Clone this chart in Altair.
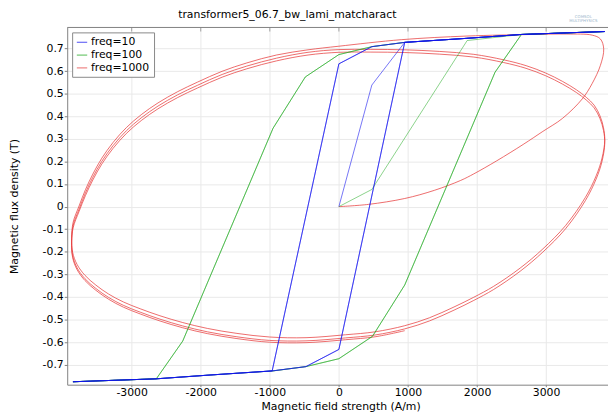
import altair as alt
import pandas as pd

# ---------------- axis ticks / labels ----------------
x_ticks = [-3000, -2000, -1000, 0, 1000, 2000, 3000]
y_ticks = [-0.7, -0.6, -0.5, -0.4, -0.3, -0.2, -0.1, 0, 0.1, 0.2, 0.3, 0.4, 0.5, 0.6, 0.7]
series_names = ["freq=10", "freq=100", "freq=1000"]
series_colors = ["#1010f0", "#16a616", "#e63b3b"]

# ---------------- freq=10 ----------------
f10_init_H = [0, 477, 953, 1857, 2643, 3850]
f10_init_B = [0, 0.538, 0.727, 0.745, 0.762, 0.775]
f10_loop_H = [3850, 2643, 1857, 953, 477, 0, -966, -1857, -2643, -3850,
              -2643, -1857, -966, -477, 0, 953, 1857, 2643, 3850]
f10_loop_B = [0.775, 0.762, 0.745, 0.727, 0.708, 0.632, -0.727, -0.745, -0.762, -0.775,
              -0.762, -0.745, -0.727, -0.708, -0.632, 0.727, 0.745, 0.762, 0.775]

# ---------------- freq=100 ----------------
f100_init_H = [0, 477, 1857, 2643, 3850]
f100_init_B = [0, 0.076, 0.735, 0.762, 0.775]
f100_loop_H = [3850, 2643, 1857, 953, 477, 0, -486, -953, -2261, -2643, -3850,
               -2643, -1857, -953, -477, 0, 486, 953, 2261, 2643, 3850]
f100_loop_B = [0.775, 0.762, 0.745, 0.727, 0.708, 0.673, 0.574, 0.347, -0.595, -0.762, -0.775,
               -0.762, -0.745, -0.727, -0.708, -0.673, -0.574, -0.347, 0.595, 0.762, 0.775]

# ---------------- freq=1000 ----------------
# initial magnetisation from the origin up to the top-right corner
f1000_init_H = [0, 429, 953, 1381, 1763, 1953, 2286, 2667, 2953, 3239, 3524, 3667, 3786, 3834, 3786, 3667]
f1000_init_B = [0, 0.010, 0.036, 0.072, 0.116, 0.145, 0.203, 0.275, 0.333, 0.391, 0.477, 0.545, 0.625, 0.698, 0.742, 0.759]

# first period (outer trace)
f1000_c1_H = [3300, 2810, 1853, 910, 0, -447,
              -904, -1333, -1690, -2047, -2333, -2619, -2861, -3076, -3269, -3433, -3562, -3669,
              -3761, -3847, -3869, -3854, -3790, -3676, -3519, -3333, -3119, -2876, -2590, -2261,
              -1904, -1476, -1004, -476, 96, 524, 953, 1310, 1667, 1953, 2239, 2624, 2953, 3281,
              3567, 3724, 3810, 3849]
f1000_c1_B = [0.764, 0.762, 0.755, 0.739, 0.710, 0.694,
              0.671, 0.636, 0.599, 0.551, 0.509, 0.459, 0.407, 0.350, 0.284, 0.214, 0.144, 0.075,
              0.003, -0.069, -0.141, -0.203, -0.256, -0.304, -0.347, -0.387, -0.422, -0.452, -0.483, -0.513,
              -0.539, -0.561, -0.577, -0.580, -0.567, -0.554, -0.527, -0.492, -0.444, -0.401, -0.353, -0.272, -0.187, -0.084,
              0.040, 0.136, 0.215, 0.294]

# second period
f1000_c2_H = [3831, 3781, 3696, 3581, 3439, 3239, 2996, 2710, 2381, 1953, 1453, 953, 453, 0, -447,
              -904, -1333, -1690, -2047, -2333, -2619, -2861, -3076, -3269, -3433, -3562, -3669,
              -3761, -3847, -3869, -3854, -3790, -3676, -3519, -3333, -3119, -2876, -2590, -2261,
              -1904, -1476, -1004, -476, 96, 524, 953, 1310, 1667, 1953, 2239, 2624, 2953, 3281,
              3567, 3724, 3810, 3849]
f1000_c2_B = [0.349, 0.401, 0.449, 0.484, 0.517, 0.554, 0.591, 0.624, 0.650, 0.674, 0.687, 0.694, 0.696, 0.695, 0.683,
              0.657, 0.622, 0.585, 0.537, 0.495, 0.445, 0.393, 0.336, 0.270, 0.200, 0.130, 0.061,
              -0.011, -0.083, -0.155, -0.218, -0.271, -0.319, -0.362, -0.402, -0.437, -0.467, -0.498, -0.528,
              -0.554, -0.576, -0.592, -0.594, -0.581, -0.568, -0.541, -0.506, -0.458, -0.415, -0.367, -0.286, -0.201, -0.098,
              0.026, 0.122, 0.201, 0.280]

# third (partial) period
f1000_c3_H = [3831, 3781, 3696, 3581, 3439, 3239, 2996, 2710, 2381, 1953, 1453, 953, 453, 0, -447,
              -904, -1333, -1690, -2047, -2333, -2619, -2861, -3076, -3269, -3433, -3562, -3669,
              -3761, -3847, -3869, -3854, -3790, -3676, -3519, -3333, -3119, -2876, -2590, -2261,
              -1904, -1476, -1004, -476, 96, 524, 953]
f1000_c3_B = [0.337, 0.389, 0.437, 0.472, 0.505, 0.542, 0.579, 0.612, 0.638, 0.662, 0.675, 0.682, 0.684, 0.683, 0.671,
              0.645, 0.610, 0.573, 0.525, 0.483, 0.433, 0.381, 0.324, 0.258, 0.188, 0.118, 0.049,
              -0.021, -0.093, -0.165, -0.226, -0.279, -0.327, -0.370, -0.410, -0.445, -0.475, -0.506, -0.536,
              -0.562, -0.584, -0.600, -0.602, -0.589, -0.576, -0.549]

# ---------------- build tables ----------------
def rows(series, trace, hs, bs):
    return [{"series": series, "trace": trace, "i": i, "H": h, "B": b}
            for i, (h, b) in enumerate(zip(hs, bs))]

blue_rows = (rows("freq=10", "init", f10_init_H, f10_init_B)
             + rows("freq=10", "loop1", f10_loop_H, f10_loop_B)
             + rows("freq=10", "loop2", f10_loop_H, f10_loop_B))
green_rows = (rows("freq=100", "init", f100_init_H, f100_init_B)
              + rows("freq=100", "loop1", f100_loop_H, f100_loop_B)
              + rows("freq=100", "loop2", f100_loop_H, f100_loop_B))
red_H = f1000_init_H + f1000_c1_H + f1000_c2_H + f1000_c3_H
red_B = f1000_init_B + f1000_c1_B + f1000_c2_B + f1000_c3_B
red_rows = rows("freq=1000", "all", red_H, red_B)

FONT = "DejaVu Sans"
xscale = alt.Scale(domain=[-3933, 3896], nice=False, zero=False)
yscale = alt.Scale(domain=[-0.788, 0.793], nice=False, zero=False)
cscale = alt.Scale(domain=series_names, range=series_colors)

x_axis = alt.Axis(values=x_ticks, labelExpr="'' + datum.value", title="Magnetic field strength (A/m)",
                  grid=True, gridColor="#e9e9e9", domainColor="#808080", tickColor="#808080",
                  tickSize=2, labelPadding=0, labelFont=FONT, labelFontSize=11, labelColor="#000",
                  titleFont=FONT, titleFontSize=11, titleFontWeight="normal", titleColor="#000",
                  titleX=277, titleY=22, titleBaseline="middle")
y_axis = alt.Axis(values=y_ticks, labelExpr="'' + datum.value", title="Magnetic flux density (T)",
                  grid=True, gridColor="#e9e9e9", domainColor="#808080", tickColor="#808080",
                  tickSize=3, labelPadding=1, labelFont=FONT, labelFontSize=11, labelColor="#000",
                  titleFont=FONT, titleFontSize=11, titleFontWeight="normal", titleColor="#000",
                  titleX=-53, titleY=181, titleBaseline="middle", titleAngle=-90)

legend = alt.Legend(title=None, orient="none", legendX=5, legendY=5, symbolType="stroke",
                    symbolSize=110, symbolStrokeWidth=1, labelFont=FONT, labelFontSize=11,
                    labelColor="#000", strokeColor="#888888", fillColor="#ffffff", padding=4,
                    rowPadding=2, labelOffset=3)

def series_chart(data_rows, opacity, interp):
    return alt.Chart(pd.DataFrame(data_rows)).mark_line(
        strokeWidth=1, opacity=opacity, clip=True, interpolate=interp
    ).encode(
        x=alt.X("H:Q", scale=xscale, axis=x_axis),
        y=alt.Y("B:Q", scale=yscale, axis=y_axis),
        color=alt.Color("series:N", scale=cscale, legend=legend),
        detail="trace:N",
        order="i:Q",
    )

blue = series_chart(blue_rows, 0.58, "linear")
green = series_chart(green_rows, 0.5, "linear")
red = series_chart(red_rows, 0.75, "catmull-rom")

top_axis = alt.Chart(pd.DataFrame({"H": x_ticks})).mark_tick(color="#808080", size=4, thickness=1).encode(
    x=alt.X("H:Q", scale=xscale), y=alt.value(2))
top_line = alt.Chart(pd.DataFrame({"a": [0]})).mark_rule(color="#808080", strokeWidth=1).encode(
    x=alt.value(0), x2=alt.value(548), y=alt.value(0))

title_text = alt.Chart(pd.DataFrame({"t": ["transformer5_06.7_bw_lami_matcharact"]})).mark_text(
    font=FONT, fontSize=11, color="#000", align="center", baseline="middle", clip=False
).encode(text="t:N", x=alt.value(223), y=alt.value(-13))

logo1 = alt.Chart(pd.DataFrame({"t": ["COMSOL"]})).mark_text(
    font=FONT, fontSize=4, color="#9db6cc", align="center", baseline="middle"
).encode(text="t:N", x=alt.value(523), y=alt.value(-11))
logo2 = alt.Chart(pd.DataFrame({"t": ["MULTIPHYSICS"]})).mark_text(
    font=FONT, fontSize=4, color="#9db6cc", align="center", baseline="middle"
).encode(text="t:N", x=alt.value(523), y=alt.value(-7))

chart = alt.layer(red, green, blue, top_line, top_axis, title_text, logo1, logo2).properties(
    width=548, height=362,
    padding={"left": 60, "top": 17, "right": 0, "bottom": 28},
    autosize=alt.AutoSizeParams(type="none"),
    background="#ffffff",
).configure_view(stroke=None)

chart.save("out.html", embed_options={"renderer": "svg", "actions": False})
